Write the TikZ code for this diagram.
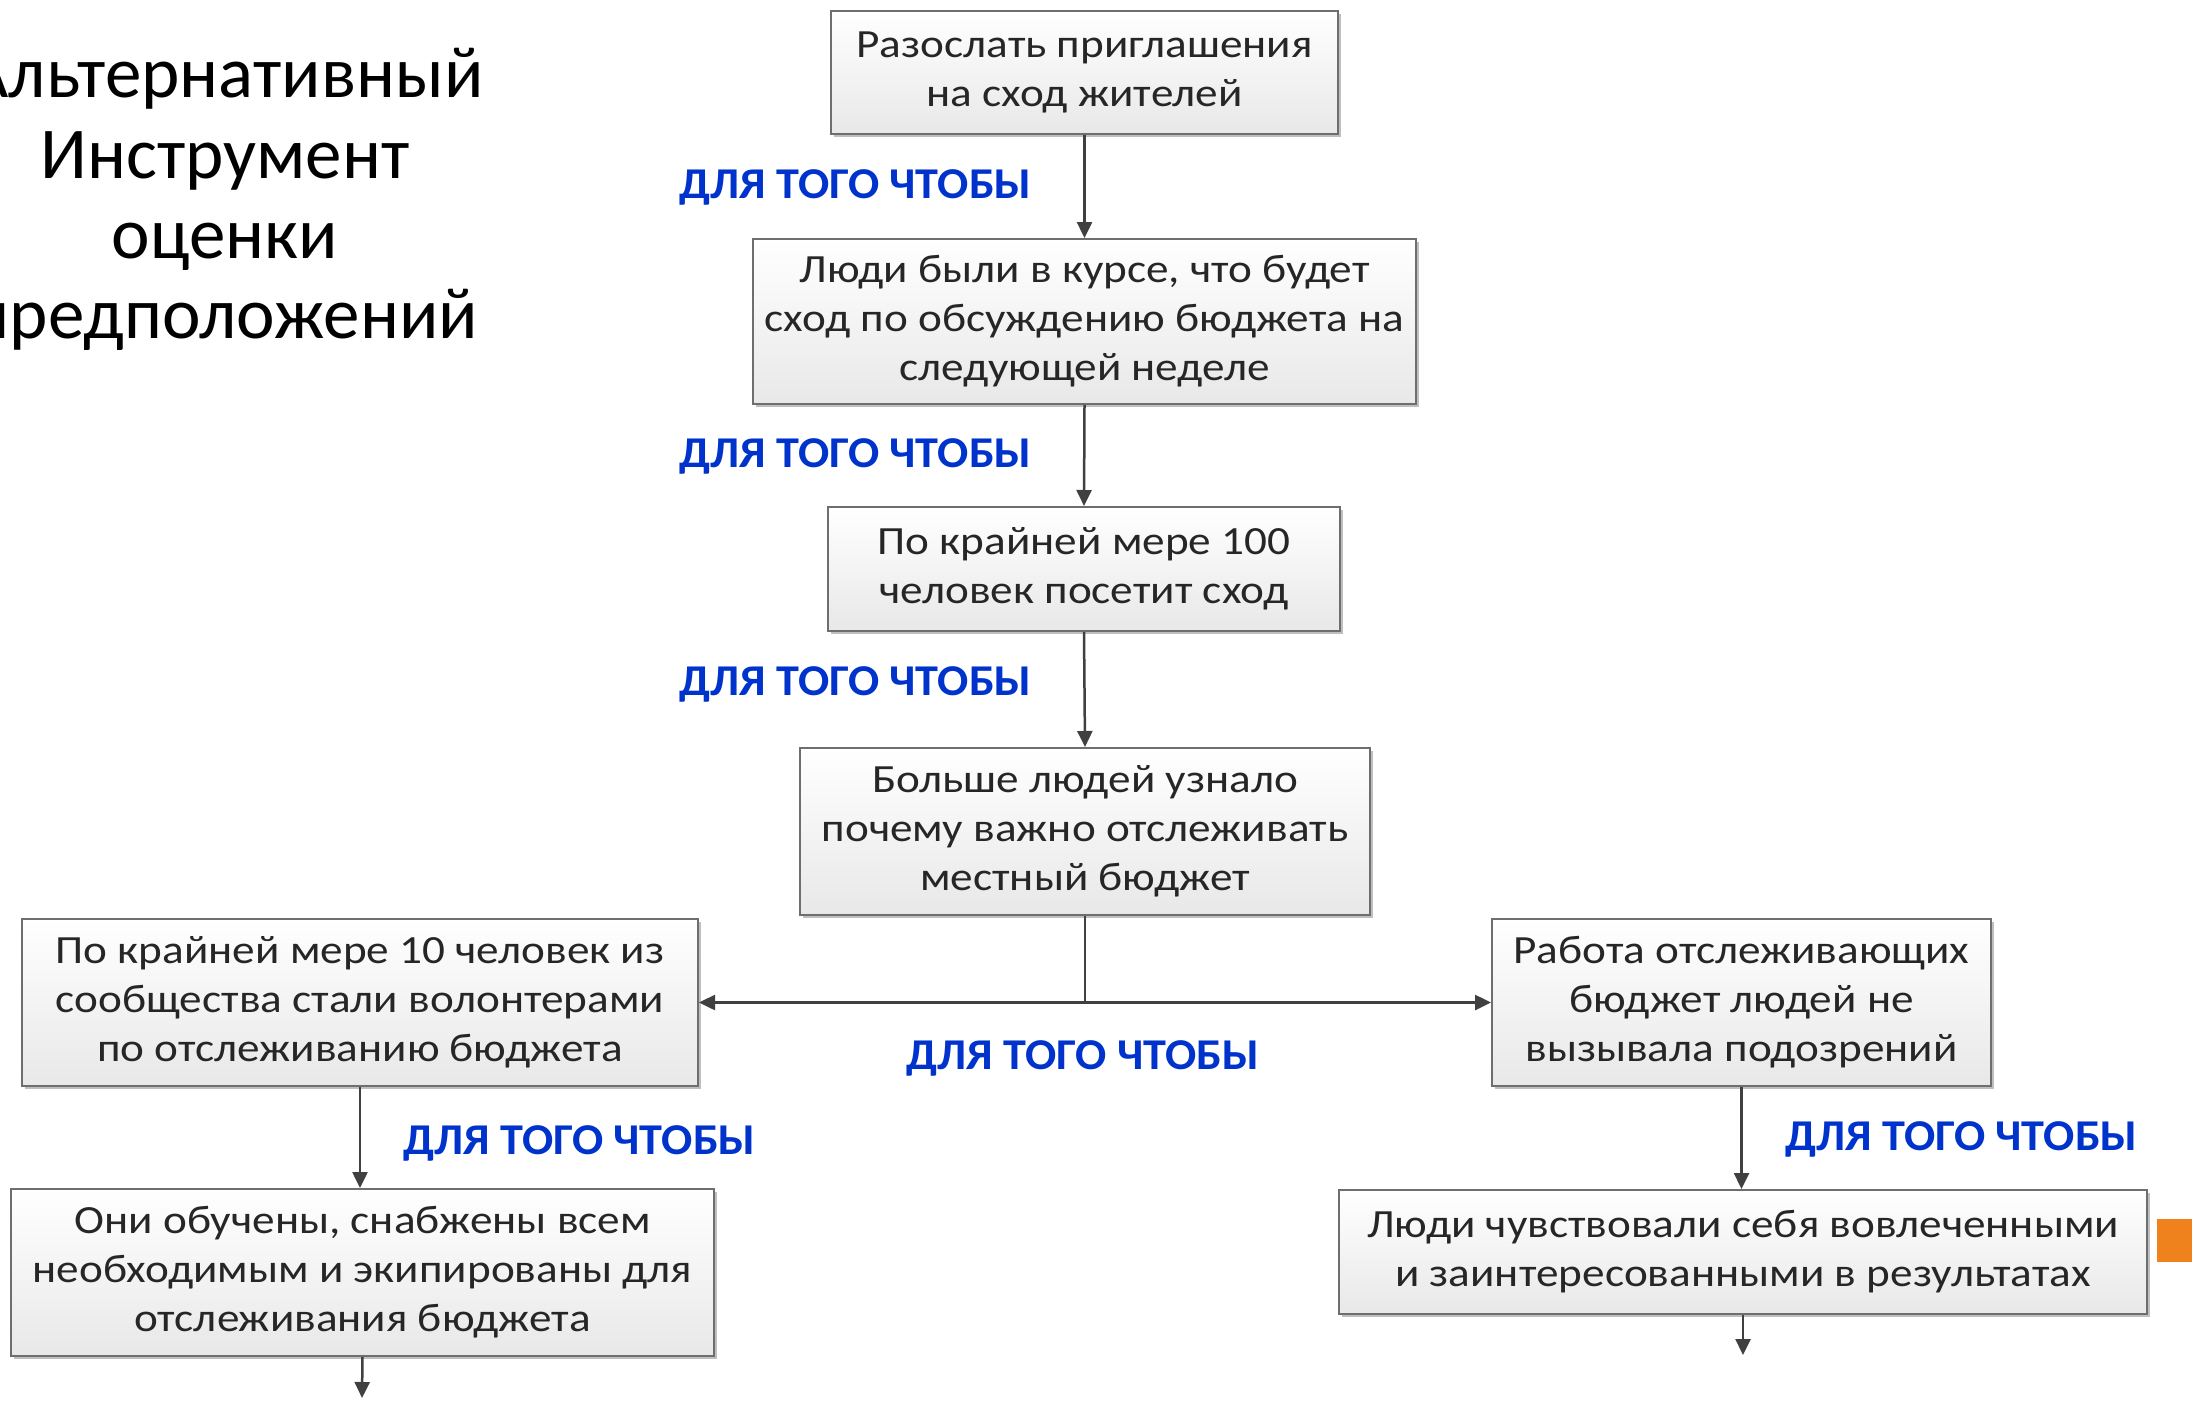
\documentclass[tikz,border=0pt]{standalone}
\usepackage{fontspec}
\setmainfont{Carlito}
\newfontfamily\boxfont[FakeStretch=1.13]{Carlito}
\newfontfamily\labfont[FakeStretch=1.05]{Carlito}
\usetikzlibrary{arrows.meta,shadows}
\definecolor{lbl}{RGB}{0,51,204}
\definecolor{ln}{RGB}{64,64,64}
\definecolor{bd}{RGB}{110,110,110}
\definecolor{txt}{RGB}{38,38,38}
\definecolor{org}{RGB}{240,130,30}
\begin{document}
\begin{tikzpicture}[x=1pt,y=-1pt,
  box/.style={draw=bd, line width=2pt, top color=white, bottom color=black!9,
    drop shadow={shadow xshift=3pt,shadow yshift=-3pt,opacity=0.25,fill=black},
    align=center, text=txt, font=\boxfont\fontsize{40}{49}\selectfont, inner sep=0pt},
  lab/.style={text=lbl, font=\labfont\fontsize{44}{50}\selectfont\bfseries, inner sep=0pt},
  arr/.style={draw=ln, line width=2.5pt, -{Triangle[length=16pt,width=15pt]}},
  ttl/.style={font=\fontsize{73}{80}\selectfont, anchor=base, inner sep=0pt}]
\useasboundingbox (0,0) rectangle (2208,1402);
\clip (0,0) rectangle (2208,1402);
\fill[white] (0,0) rectangle (2208,1402);

% title
\node[ttl] (t1) at (225,98) {Альтернативный};
\node[ttl] (t2) at (225,178) {Инструмент};
\node[ttl] (t3) at (225,258) {оценки};
\node[ttl] (t4) at (225,338) {предположений};

% boxes
\node[box, minimum width=507pt, minimum height=123pt] (b1) at (1084.5,72.5)
  {Разослать приглашения\\на сход жителей};
\node[box, minimum width=663pt, minimum height=165pt] (b2) at (1084.5,321.5)
  {Люди были в курсе, что будет\\сход по обсуждению бюджета на\\следующей неделе};
\node[box, minimum width=512pt, minimum height=124pt] (b3) at (1084,569)
  {По крайней мере 100\\человек посетит сход};
\node[box, minimum width=570pt, minimum height=167pt] (b4) at (1085,831.5)
  {Больше людей узнало\\почему важно отслеживать\\местный бюджет};
\node[box, minimum width=676pt, minimum height=167pt] (b5) at (360,1002.5)
  {По крайней мере 10 человек из\\сообщества стали волонтерами\\по отслеживанию бюджета};
\node[box, minimum width=499pt, minimum height=167pt] (b6) at (1741.5,1002.5)
  {Работа отслеживающих\\бюджет людей не\\вызывала подозрений};
\node[box, minimum width=703pt, minimum height=167pt] (b7) at (362.5,1272.5)
  {Они обучены, снабжены всем\\необходимым и экипированы для\\отслеживания бюджета};
\node[box, minimum width=808pt, minimum height=124pt] (b8) at (1743,1252)
  {Люди чувствовали себя вовлеченными\\и заинтересованными в результатах};

% labels
\node[lab, anchor=base west] (l1) at (679,198) {ДЛЯ ТОГО ЧТОБЫ};
\node[lab, anchor=base west] (l2) at (679,467) {ДЛЯ ТОГО ЧТОБЫ};
\node[lab, anchor=base west] (l3) at (679,695) {ДЛЯ ТОГО ЧТОБЫ};
\node[lab, anchor=base] (l4) at (1083,1069) {ДЛЯ ТОГО ЧТОБЫ};
\node[lab, anchor=base west] (l5) at (403,1154) {ДЛЯ ТОГО ЧТОБЫ};
\node[lab, anchor=base west] (l6) at (1785,1150) {ДЛЯ ТОГО ЧТОБЫ};

% connectors
\draw[arr] (b1.south) -- (b2.north);
\draw[arr] (b2.south) -- (b3.north);
\draw[arr] (b3.south) -- (b4.north);
\coordinate (j) at (b4.south |- b5.east);
\draw[draw=ln, line width=2.5pt] (b4.south) -- (j);
\draw[arr] (j) -- (b5.east);
\draw[arr] (j) -- (b6.west);
\draw[arr] (b5.south) -- (b5.south |- b7.north);
\draw[arr] (b6.south) -- (b6.south |- b8.north);
\coordinate (e7) at (362,1398);
\coordinate (e8) at (1743,1355);
\draw[arr] (b7.south) -- (e7);
\draw[arr] (b8.south) -- (e8);

% orange mark
\fill[org] (2157,1219) rectangle (2192,1262);
\end{tikzpicture}
\end{document}
